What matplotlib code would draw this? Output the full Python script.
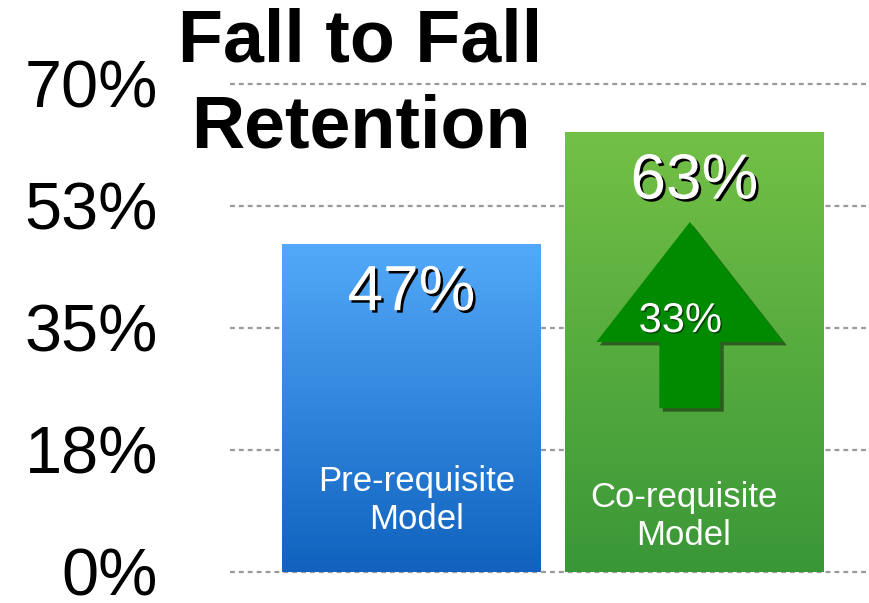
import numpy as np
import matplotlib
matplotlib.use("Agg")
import matplotlib.pyplot as plt
import matplotlib.patheffects as pe
from matplotlib.patches import FancyArrow
from matplotlib.colors import LinearSegmentedColormap

# ---- data ----
categories = ["Pre-requisite\nModel", "Co-requisite\nModel"]
values = [47, 63]
value_labels = ["47%", "63%"]
tick_values = [0, 17.5, 35, 52.5, 70]
tick_labels = ["0%", "18%", "35%", "53%", "70%"]
increase_label = "33%"
title_lines = ["Fall to Fall", "Retention"]

# ---- style ----
plt.rcParams['font.family'] = ['Liberation Sans', 'DejaVu Sans']
bar_top_colors = ["#53A9F9", "#73C046"]
bar_bottom_colors = ["#1062BE", "#3A9737"]
arrow_color = "#008A00"

fig = plt.figure(figsize=(8.69, 6.03), dpi=100)
ax = fig.add_axes([230/869, 31/603, 1 - 230/869, (572-84)/603])

xs = np.arange(len(categories))
width = 0.915
ax.set_xlim(-0.641, 1.617)
ax.set_ylim(0, 70)

# gridlines
for t in tick_values:
    ax.axhline(t, color="#9a9a9a", lw=1.6, ls=(0, (2.2, 1.8)), zorder=0, clip_on=False)

# gradient bars
grad = np.linspace(0, 1, 256).reshape(-1, 1)
for x, v, ct, cb in zip(xs, values, bar_top_colors, bar_bottom_colors):
    cmap = LinearSegmentedColormap.from_list("g", [cb, ct])
    ax.imshow(grad, extent=(x - width/2, x + width/2, 0, v), origin="lower",
              cmap=cmap, aspect="auto", zorder=2)

# value labels
shadow = [pe.withSimplePatchShadow(offset=(1.8, -1.8), shadow_rgbFace="black", alpha=1.0)]
label_y = [v - 7.0 for v in values]
for x, v, lab, ly in zip(xs, values, value_labels, label_y):
    ax.text(x, ly, lab, ha="center", va="center", fontsize=46, color="white",
            zorder=5, path_effects=shadow)

# category labels inside bars
cat_pos = [(0.02, 10.2), (0.963, 8.0)]
for (cx, cy), cat in zip(cat_pos, categories):
    ax.text(cx, cy, cat, ha="center", va="center", fontsize=25, color="white",
            linespacing=1.2, zorder=5)

# increase arrow
ax_x = 0.984
arrow_base, arrow_tip = 23.5, 50.2
arr_shadow = FancyArrow(ax_x + 0.012, arrow_base - 0.5, 0, arrow_tip - arrow_base,
                        width=0.2155, head_width=0.661, head_length=17.2,
                        length_includes_head=True, color="black", alpha=0.45,
                        lw=0, zorder=3)
ax.add_patch(arr_shadow)
arr = FancyArrow(ax_x, arrow_base, 0, arrow_tip - arrow_base,
                 width=0.2155, head_width=0.661, head_length=17.2,
                 length_includes_head=True, color=arrow_color, lw=0, zorder=4)
ax.add_patch(arr)
ax.text(0.95, 36.0, increase_label, ha="center", va="center", fontsize=30,
        color="white", zorder=5,
        path_effects=[pe.withSimplePatchShadow(offset=(1.0, -1.0), shadow_rgbFace="black", alpha=0.5)])

# axes cosmetics
ax.set_yticks(tick_values)
ax.set_yticklabels(tick_labels, fontsize=48)
ax.tick_params(axis="y", length=0, pad=52)
ax.set_xticks([])
for s in ax.spines.values():
    s.set_visible(False)
ax.set_facecolor("none")

# title
fig.text(360/869, 1 - 62/603, title_lines[0], ha="center", va="baseline",
         fontsize=53, fontweight="bold", color="black")
fig.text(361/869, 1 - 148/603, title_lines[1], ha="center", va="baseline",
         fontsize=53, fontweight="bold", color="black")

fig.savefig("out.png", dpi=100)
